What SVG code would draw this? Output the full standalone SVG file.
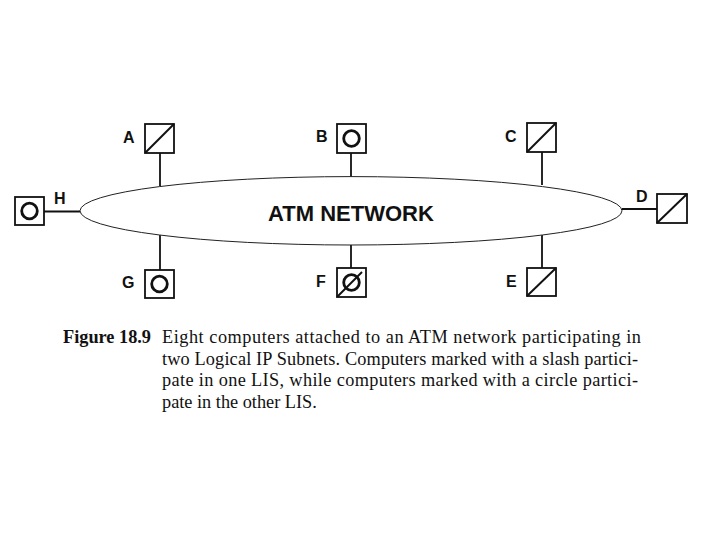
<svg xmlns="http://www.w3.org/2000/svg" width="720" height="540" viewBox="0 0 720 540">
<style>
.box{fill:#fff;stroke:#111;stroke-width:1.8}
.mark{fill:none;stroke:#111;stroke-width:2}
.ring{fill:none;stroke:#111;stroke-width:2.8}
.lbl{font-family:"Liberation Sans",Arial,sans-serif;font-weight:bold;font-size:16px;fill:#111}
.conn{stroke:#111;stroke-width:1.8;fill:none}
.cap{font-family:"Liberation Serif","Times New Roman",serif;font-size:18.3px;fill:#111}
</style>
<rect width="720" height="540" fill="#fff"/>
<g id="connectors">
<line class="conn" x1="160" y1="153" x2="160" y2="186.5"/>
<line class="conn" x1="351" y1="153" x2="351" y2="177"/>
<line class="conn" x1="542" y1="152" x2="542" y2="185"/>
<line class="conn" x1="622" y1="209" x2="657" y2="209"/>
<line class="conn" x1="542" y1="234.5" x2="542" y2="268"/>
<line class="conn" x1="351" y1="245" x2="351" y2="268"/>
<line class="conn" x1="160" y1="235" x2="160" y2="270"/>
<line class="conn" x1="44" y1="211.5" x2="80" y2="211.5"/>
</g>
<g id="network">
<ellipse cx="351" cy="210.8" rx="271" ry="34.2" fill="#fff" stroke="#222" stroke-width="1"/>
<text x="268" y="221" font-family="'Liberation Sans',Arial,sans-serif" font-weight="bold" font-size="22" fill="#111">ATM NETWORK</text>
</g>
<g id="nodeA">
<rect class="box" x="145" y="124" width="29" height="29"/>
<line class="mark" x1="145" y1="153" x2="174" y2="124"/>
<text class="lbl" x="123" y="142.5">A</text>
</g>
<g id="nodeB">
<rect class="box" x="337" y="124" width="29" height="29"/>
<circle class="ring" cx="351.5" cy="138.5" r="7.8"/>
<text class="lbl" x="316" y="142">B</text>
</g>
<g id="nodeC">
<rect class="box" x="527" y="123" width="29" height="29"/>
<line class="mark" x1="527" y1="152" x2="556" y2="123"/>
<text class="lbl" x="505" y="141.7">C</text>
</g>
<g id="nodeD">
<rect class="box" x="657" y="194" width="30" height="29"/>
<line class="mark" x1="657" y1="223" x2="687" y2="194"/>
<text class="lbl" x="636" y="201.5">D</text>
</g>
<g id="nodeE">
<rect class="box" x="527" y="268" width="29" height="28"/>
<line class="mark" x1="527" y1="296" x2="556" y2="268"/>
<text class="lbl" x="506" y="286.7">E</text>
</g>
<g id="nodeF">
<rect class="box" x="337" y="268" width="29" height="29"/>
<circle class="ring" cx="351.5" cy="282.5" r="7.8"/>
<line class="mark" x1="337" y1="297" x2="362" y2="272"/>
<text class="lbl" x="316" y="287.3">F</text>
</g>
<g id="nodeG">
<rect class="box" x="145" y="270" width="29" height="28"/>
<circle class="ring" cx="159.5" cy="284" r="7.8"/>
<text class="lbl" x="122" y="288.3">G</text>
</g>
<g id="nodeH">
<rect class="box" x="15" y="197" width="29" height="28"/>
<circle class="ring" cx="29.5" cy="211" r="7.8"/>
<text class="lbl" x="54" y="203.5">H</text>
</g>
<g id="caption">
<text class="cap" x="63" y="343" font-weight="bold">Figure 18.9</text>
<text class="cap" x="162" y="343" textLength="479" lengthAdjust="spacing">Eight computers attached to an ATM network participating in</text>
<text class="cap" x="162" y="364.5" textLength="476" lengthAdjust="spacing">two Logical IP Subnets.  Computers marked with a slash partici-</text>
<text class="cap" x="162" y="386" textLength="476" lengthAdjust="spacing">pate in one LIS, while computers marked with a circle partici-</text>
<text class="cap" x="162" y="407.5">pate in the other LIS.</text>
</g>
</svg>
